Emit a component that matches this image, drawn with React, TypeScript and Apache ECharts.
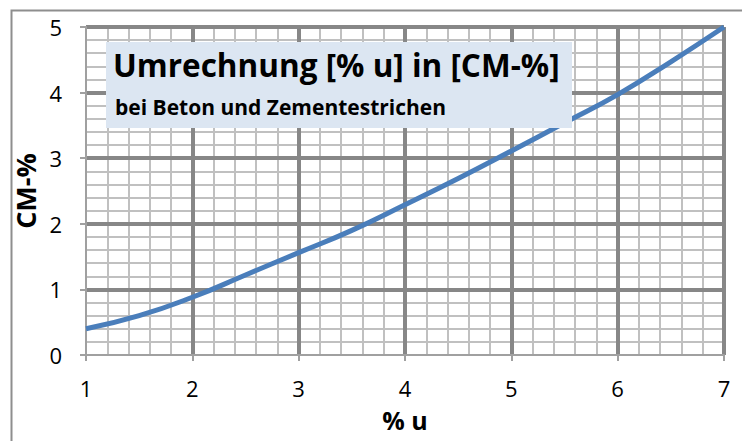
import React, { useEffect, useRef } from "react";
import * as echarts from "echarts";

const uValues = [1, 1.5, 2, 2.5, 3, 3.5, 4, 4.5, 5, 5.5, 6, 6.5, 7];
const cmValues = [0.4, 0.6, 0.88, 1.22, 1.56, 1.9, 2.29, 2.69, 3.11, 3.54, 3.97, 4.47, 5.0];
const xAxisName = "% u";
const yAxisName = "CM-%";
const titleText = "Umrechnung [% u] in [CM-%]";
const subtitleText = "bei Beton und Zementestrichen";

export default function App() {
  const ref = useRef<HTMLDivElement>(null);
  useEffect(() => {
    const chart = echarts.init(ref.current!, null, { renderer: "svg" });
    const font = "'Open Sans', sans-serif";
    const minorLine = { color: "#c0c0c0", width: 2 };
    const majorLine = { color: "#878787", width: 4 };
    const axisGray = { color: "#a0a0a0", width: 2 };
    chart.setOption({
      animation: false,
      backgroundColor: "#ffffff",
      grid: { left: 86, right: 18, top: 27, bottom: 86 },
      xAxis: [
        {
          type: "value", min: 1, max: 7, interval: 0.2, position: "bottom", z: 0,
          axisLine: { show: false }, axisTick: { show: false }, axisLabel: { show: false },
          splitLine: { show: true, lineStyle: minorLine },
        },
        {
          type: "value", min: 1, max: 7, interval: 1, position: "bottom", z: 1,
          axisLine: { show: true, lineStyle: axisGray },
          axisTick: { show: true, length: 6, lineStyle: axisGray },
          axisLabel: { show: true, color: "#000", fontFamily: font, fontSize: 22, margin: 22 },
          splitLine: { show: true, showMinLine: false, lineStyle: majorLine },
          name: xAxisName, nameLocation: "middle", nameGap: 52,
          nameTextStyle: { color: "#000", fontFamily: font, fontSize: 25, fontWeight: "bold" },
        },
      ],
      yAxis: [
        {
          type: "value", min: 0, max: 5, interval: 0.2, position: "left", z: 0,
          axisLine: { show: false }, axisTick: { show: false }, axisLabel: { show: false },
          splitLine: { show: true, lineStyle: minorLine },
        },
        {
          type: "value", min: 0, max: 5, interval: 1, position: "left", z: 1,
          axisLine: { show: true, lineStyle: axisGray },
          axisTick: { show: true, length: 6, lineStyle: axisGray },
          axisLabel: { show: true, color: "#000", fontFamily: font, fontSize: 22, margin: 24 },
          splitLine: { show: true, showMinLine: false, lineStyle: majorLine },
          name: yAxisName, nameLocation: "middle", nameGap: 41, nameRotate: 90,
          nameTextStyle: { color: "#000", fontFamily: font, fontSize: 27, fontWeight: "bold" },
        },
      ],
      series: [
        {
          type: "line",
          xAxisIndex: 1,
          yAxisIndex: 1,
          data: uValues.map((u, i) => [u, cmValues[i]]),
          smooth: true,
          showSymbol: false,
          lineStyle: { color: "#4a7ebb", width: 5 },
          z: 5,
        },
      ],
      graphic: [
        {
          type: "rect", left: 9, top: 8, z: 0,
          shape: { x: 0, y: 0, width: 760, height: 460 },
          style: { fill: "none", stroke: "#8e8e8e", lineWidth: 2 },
          silent: true,
        },
        {
          type: "rect", z: 100,
          shape: { x: 106, y: 42, width: 466, height: 86 },
          style: { fill: "#dce6f2" },
        },
        {
          type: "text", z: 101, x: 113, y: 64.5,
          style: { text: titleText, fill: "#000", font: `bold 31.5px ${font}`, verticalAlign: "middle", align: "left" },
        },
        {
          type: "text", z: 101, x: 115, y: 107,
          style: { text: subtitleText, fill: "#000", font: `bold 21px ${font}`, verticalAlign: "middle", align: "left" },
        },
      ],
    });
    return () => chart.dispose();
  }, []);
  return <div ref={ref} style={{ position: "absolute", left: 0, top: 0, width: 742, height: 441 }} />;
}
